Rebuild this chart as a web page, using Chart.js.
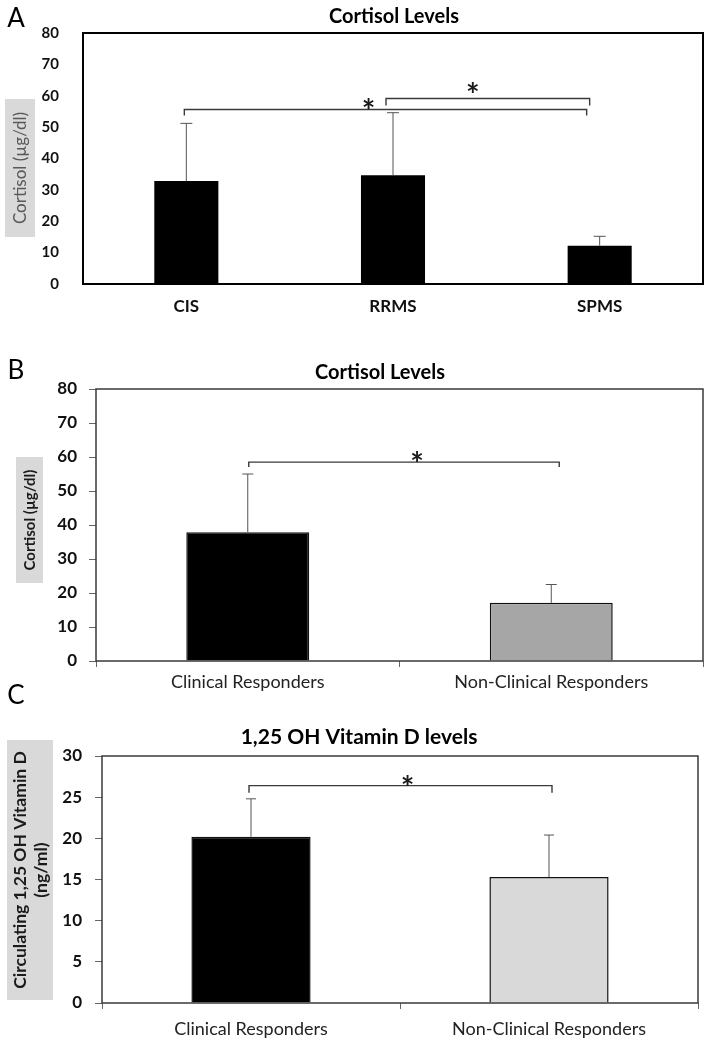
<!DOCTYPE html>
<html>
<head>
<meta charset="utf-8">
<script src="https://cdn.jsdelivr.net/npm/chart.js@4.4.1/dist/chart.umd.min.js"></script>
<style>
  body { margin: 0; background: #fff; width: 708px; height: 1046px; position: relative; overflow: hidden; }
  .panel { position: absolute; left: 0; width: 708px; }
</style>
</head>
<body>
<div class="panel" style="top:0;height:330px"><canvas id="chartA"></canvas></div>
<div class="panel" style="top:330px;height:370px"><canvas id="chartB"></canvas></div>
<div class="panel" style="top:676px;height:370px"><canvas id="chartC"></canvas></div>
<script>
const FONT = 'Lato, "Open Sans", sans-serif';

// panel A: cortisol by MS type
const groupsA = ['CIS', 'RRMS', 'SPMS'];
const cortisolA = [32.8, 34.7, 12.2];
const cortisolErrA = [18.4, 19.9, 3.0];

// panel B: cortisol by clinical response
const groupsB = ['Clinical Responders', 'Non-Clinical Responders'];
const cortisolB = [37.9, 17.1];
const cortisolErrB = [17.1, 5.4];

// panel C: 1,25 OH vitamin D by clinical response
const groupsC = ['Clinical Responders', 'Non-Clinical Responders'];
const vitaminD = [20.2, 15.3];
const vitaminDErr = [4.6, 5.1];

const cortisolMax = 80, cortisolStep = 10;
const vitDMax = 30, vitDStep = 5;

// draws text with its ink centred on (cx, cy)
function inkText(ctx, text, cx, cy, font, color, rot) {
  ctx.save();
  ctx.font = font;
  ctx.fillStyle = color;
  ctx.textAlign = 'center';
  ctx.textBaseline = 'alphabetic';
  ctx.translate(cx, cy);
  if (rot) ctx.rotate(rot);
  const m = ctx.measureText(text);
  ctx.fillText(text, 0, (m.actualBoundingBoxAscent - m.actualBoundingBoxDescent) / 2);
  ctx.restore();
}

const panelDecor = {
  id: 'panelDecor',
  afterDatasetsDraw(chart, args, o) {
    const ctx = chart.ctx, a = chart.chartArea;
    const xs = chart.scales.x, ys = chart.scales.y;
    const off = o.top;
    ctx.save();

    // error bars (upper only)
    const meta = chart.getDatasetMeta(0);
    const vals = chart.data.datasets[0].data;
    ctx.strokeStyle = '#555';
    ctx.lineWidth = 1;
    meta.data.forEach((bar, i) => {
      const top = ys.getPixelForValue(vals[i] + o.errors[i]);
      ctx.beginPath();
      ctx.moveTo(bar.x, bar.y);
      ctx.lineTo(bar.x, top);
      ctx.moveTo(bar.x - o.cap, top);
      ctx.lineTo(bar.x + o.cap, top);
      ctx.stroke();
    });

    // frame
    ctx.strokeStyle = o.frameColor;
    ctx.lineWidth = o.frameWidth;
    ctx.strokeRect(a.left, a.top, a.right - a.left, a.bottom - a.top);

    // significance brackets
    ctx.strokeStyle = '#3a3a3a';
    ctx.lineWidth = 1.4;
    o.brackets.forEach(b => {
      const x1 = xs.getPixelForValue(b.from) + b.dx1;
      const x2 = xs.getPixelForValue(b.to) + b.dx2;
      const y = ys.getPixelForValue(b.level);
      ctx.beginPath();
      ctx.moveTo(x1, y + b.drop);
      ctx.lineTo(x1, y);
      ctx.lineTo(x2, y);
      ctx.lineTo(x2, y + b.drop);
      ctx.stroke();
      inkText(ctx, '*', (x1 + x2) / 2 + b.starDx, y - b.starDy, 'bold 32px ' + FONT, '#1a1a1a');
    });

    // panel letter, title
    inkText(ctx, o.letter, o.letterPos[0], o.letterPos[1] - off, '26px ' + FONT, '#000');
    inkText(ctx, o.title, o.titlePos[0], o.titlePos[1] - off, 'bold ' + o.titleSize + 'px ' + FONT, '#000');

    // y title on grey box
    const bx = o.yBox;
    ctx.fillStyle = '#d9d9d9';
    ctx.fillRect(bx[0], bx[1] - off, bx[2], bx[3]);
    const n = o.yTitle.length;
    o.yTitle.forEach((line, i) => {
      const cx = o.yTitlePos[0] + (i - (n - 1) / 2) * o.yLineGap;
      inkText(ctx, line, cx, o.yTitlePos[1] - off, o.yFont, o.yColor, -Math.PI / 2);
    });
    ctx.restore();
  }
};

function makeChart(id, c) {
  return new Chart(document.getElementById(id), {
    type: 'bar',
    data: {
      labels: c.labels,
      datasets: [{
        data: c.values,
        backgroundColor: c.colors,
        borderColor: '#111',
        borderWidth: c.barBorder,
        barPercentage: c.barPct,
        categoryPercentage: 1
      }]
    },
    options: {
      responsive: true,
      maintainAspectRatio: false,
      animation: false,
      layout: { padding: c.padding },
      plugins: {
        legend: { display: false },
        tooltip: { enabled: false },
        panelDecor: c.decor
      },
      scales: {
        x: {
          grid: { display: c.ticks, drawOnChartArea: false, drawTicks: c.ticks, tickLength: 6, color: '#666', offset: true },
          border: { display: false },
          ticks: { font: c.xFont, color: c.xColor, padding: c.xPad, maxRotation: 0 },
          afterFit: s => { s.height = c.xHeight; }
        },
        y: {
          min: 0,
          max: c.max,
          grid: { display: c.ticks, drawOnChartArea: false, drawTicks: c.ticks, tickLength: 7, color: '#666' },
          border: { display: false },
          ticks: { stepSize: c.step, font: c.yFont, color: '#111', padding: c.yPad },
          afterFit: s => { s.width = c.yWidth; }
        }
      }
    },
    plugins: [panelDecor]
  });
}

makeChart('chartA', {
  labels: groupsA, values: cortisolA, colors: ['#000', '#000', '#000'],
  barBorder: 0, barPct: 0.31, max: cortisolMax, step: cortisolStep, ticks: false,
  padding: { top: 28, right: 5, left: 0, bottom: 0 }, yWidth: 83, xHeight: 46,
  xFont: { family: FONT, size: 17, weight: 'bold' }, xColor: '#111', xPad: 12,
  yFont: { family: FONT, size: 15, weight: 'bold' }, yPad: 24,
  decor: {
    top: 0, errors: cortisolErrA, cap: 6, frameColor: '#000', frameWidth: 2,
    brackets: [
      { from: 0, to: 2, level: 55.6, drop: 6, dx1: -2, dx2: -13, starDx: -17, starDy: 7 },
      { from: 1, to: 2, level: 59.1, drop: 7, dx1: -7, dx2: -10, starDx: -15, starDy: 12 }
    ],
    letter: 'A', letterPos: [16, 17], title: 'Cortisol Levels', titlePos: [394, 15], titleSize: 20,
    yBox: [5, 99, 30, 138], yTitle: ['Cortisol (µg/dl)'], yTitlePos: [20, 168], yLineGap: 0,
    yFont: '17px ' + FONT, yColor: '#595959'
  }
});

makeChart('chartB', {
  labels: groupsB, values: cortisolB, colors: ['#000', '#a6a6a6'],
  barBorder: 1.5, barPct: 0.405, max: cortisolMax, step: cortisolStep, ticks: true,
  padding: { top: 59, right: 5, left: 0, bottom: 0 }, yWidth: 96, xHeight: 39,
  xFont: { family: FONT, size: 18 }, xColor: '#222', xPad: 4,
  yFont: { family: FONT, size: 17, weight: 'bold' }, yPad: 12,
  decor: {
    top: 330, errors: cortisolErrB, cap: 5.5, frameColor: '#3a3a3a', frameWidth: 1.5,
    brackets: [
      { from: 0, to: 1, level: 58.5, drop: 5, dx1: 1, dx2: 8, starDx: 13, starDy: 6 }
    ],
    letter: 'B', letterPos: [16, 369], title: 'Cortisol Levels', titlePos: [380, 371], titleSize: 20,
    yBox: [16, 457, 27, 126], yTitle: ['Cortisol (µg/dl)'], yTitlePos: [29.5, 520], yLineGap: 0,
    yFont: 'bold 15px ' + FONT, yColor: '#1a1a1a'
  }
});

makeChart('chartC', {
  labels: groupsC, values: vitaminD, colors: ['#000', '#d9d9d9'],
  barBorder: 1.5, barPct: 0.40, max: vitDMax, step: vitDStep, ticks: true,
  padding: { top: 80, right: 10, left: 0, bottom: 0 }, yWidth: 102, xHeight: 43,
  xFont: { family: FONT, size: 18 }, xColor: '#222', xPad: 9,
  yFont: { family: FONT, size: 17, weight: 'bold' }, yPad: 13,
  decor: {
    top: 676, errors: vitaminDErr, cap: 5, frameColor: '#3a3a3a', frameWidth: 1.5,
    brackets: [
      { from: 0, to: 1, level: 26.4, drop: 7, dx1: -2, dx2: 3, starDx: 7, starDy: 6 }
    ],
    letter: 'C', letterPos: [16, 694], title: '1,25 OH Vitamin D levels', titlePos: [359, 738], titleSize: 21,
    yBox: [7, 740, 46, 260], yTitle: ['Circulating 1,25 OH Vitamin D', '(ng/ml)'], yTitlePos: [31, 870], yLineGap: 20,
    yFont: 'bold 17.5px ' + FONT, yColor: '#1a1a1a'
  }
});
</script>
</body>
</html>
